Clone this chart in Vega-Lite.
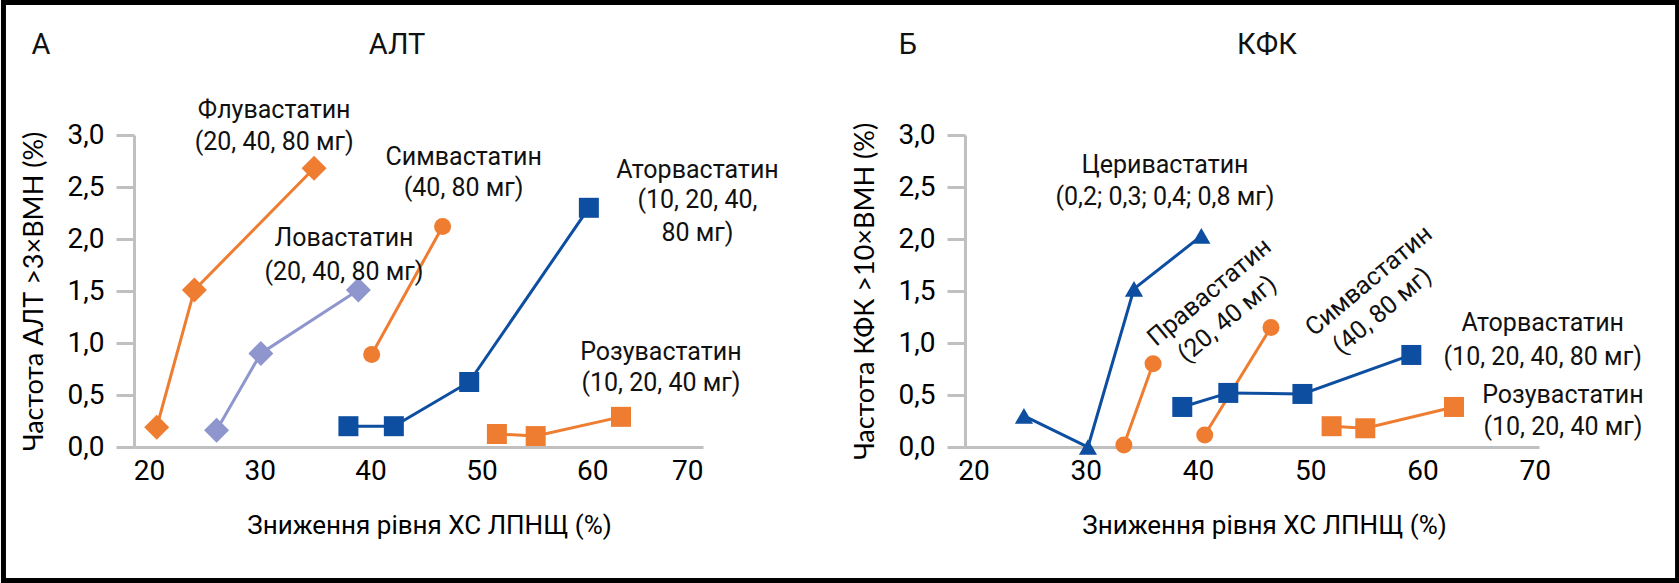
{
  "$schema": "https://vega.github.io/schema/vega-lite/v6.json",
  "background": "white",
  "padding": 0,
  "bounds": "flush",
  "spacing": 262,
  "config": {
    "view": {"stroke": null},
    "font": "Roboto",
    "axis": {
      "labelFont": "Roboto",
      "labelFontSize": 28,
      "labelColor": "#000000",
      "domainColor": "#C0C0C0",
      "domainWidth": 3,
      "tickColor": "#C0C0C0",
      "tickWidth": 3,
      "grid": false,
      "titleColor": "#000000",
      "titleFontWeight": "normal"
    },
    "text": {"font": "Roboto", "fontSize": 25, "color": "#111111"}
  },
  "datasets": {
    "pts": [
      {"panel": "A", "series": "Флувастатин", "x": 20.7, "y": 0.19},
      {"panel": "A", "series": "Флувастатин", "x": 24.1, "y": 1.51},
      {"panel": "A", "series": "Флувастатин", "x": 34.9, "y": 2.68},
      {"panel": "A", "series": "Ловастатин", "x": 26.1, "y": 0.16},
      {"panel": "A", "series": "Ловастатин", "x": 30.1, "y": 0.9},
      {"panel": "A", "series": "Ловастатин", "x": 38.9, "y": 1.51},
      {"panel": "A", "series": "Симвастатин", "x": 40.1, "y": 0.89},
      {"panel": "A", "series": "Симвастатин", "x": 46.5, "y": 2.12},
      {"panel": "A", "series": "Аторвастатин", "x": 38.0, "y": 0.2},
      {"panel": "A", "series": "Аторвастатин", "x": 42.1, "y": 0.2},
      {"panel": "A", "series": "Аторвастатин", "x": 48.9, "y": 0.625},
      {"panel": "A", "series": "Аторвастатин", "x": 59.7, "y": 2.3},
      {"panel": "A", "series": "Розувастатин", "x": 51.4, "y": 0.125},
      {"panel": "A", "series": "Розувастатин", "x": 54.9, "y": 0.105},
      {"panel": "A", "series": "Розувастатин", "x": 62.6, "y": 0.29},
      {"panel": "B", "series": "Церивастатин", "x": 24.5, "y": 0.3},
      {"panel": "B", "series": "Церивастатин", "x": 30.2, "y": 0.0},
      {"panel": "B", "series": "Церивастатин", "x": 34.3, "y": 1.52},
      {"panel": "B", "series": "Церивастатин", "x": 40.3, "y": 2.03},
      {"panel": "B", "series": "Правастатин", "x": 33.4, "y": 0.02},
      {"panel": "B", "series": "Правастатин", "x": 36.0, "y": 0.8},
      {"panel": "B", "series": "Симвастатин", "x": 40.6, "y": 0.115},
      {"panel": "B", "series": "Симвастатин", "x": 46.5, "y": 1.15},
      {"panel": "B", "series": "Аторвастатин", "x": 38.6, "y": 0.385},
      {"panel": "B", "series": "Аторвастатин", "x": 42.7, "y": 0.52},
      {"panel": "B", "series": "Аторвастатин", "x": 49.3, "y": 0.51},
      {"panel": "B", "series": "Аторвастатин", "x": 59.0, "y": 0.885},
      {"panel": "B", "series": "Розувастатин", "x": 51.9, "y": 0.2},
      {"panel": "B", "series": "Розувастатин", "x": 54.9, "y": 0.18},
      {"panel": "B", "series": "Розувастатин", "x": 62.8, "y": 0.385}
    ],
    "titlesA": [
      {"text": "А", "x": 10.26, "y": 3.865},
      {"text": "АЛТ", "x": 42.39, "y": 3.865}
    ],
    "titlesB": [
      {"text": "Б", "x": 14.17, "y": 3.865},
      {"text": "КФК", "x": 46.14, "y": 3.865}
    ],
    "notesA": [
      {"text": "Флувастатин", "x": 31.3, "y": 3.24},
      {"text": "(20, 40, 80 мг)", "x": 31.3, "y": 2.93},
      {"text": "Симвастатин", "x": 48.4, "y": 2.79},
      {"text": "(40, 80 мг)", "x": 48.4, "y": 2.49},
      {"text": "Ловастатин", "x": 37.6, "y": 2.01},
      {"text": "(20, 40, 80 мг)", "x": 37.6, "y": 1.68},
      {"text": "Аторвастатин", "x": 69.5, "y": 2.66},
      {"text": "(10, 20, 40,", "x": 69.5, "y": 2.375},
      {"text": "80 мг)", "x": 69.5, "y": 2.06},
      {"text": "Розувастатин", "x": 66.2, "y": 0.91},
      {"text": "(10, 20, 40 мг)", "x": 66.2, "y": 0.615}
    ],
    "notesB": [
      {"text": "Церивастатин", "x": 37.06, "y": 2.71},
      {"text": "(0,2; 0,3; 0,4; 0,8 мг)", "x": 37.06, "y": 2.4},
      {"text": "Аторвастатин", "x": 70.7, "y": 1.19},
      {"text": "(10, 20, 40, 80 мг)", "x": 70.7, "y": 0.865},
      {"text": "Розувастатин", "x": 72.5, "y": 0.5},
      {"text": "(10, 20, 40 мг)", "x": 72.5, "y": 0.19}
    ],
    "rotB": [
      {"text": "Правастатин", "x": 41.0, "y": 1.49},
      {"text": "(20, 40 мг)", "x": 42.6, "y": 1.23},
      {"text": "Симвастатин", "x": 55.2, "y": 1.6},
      {"text": "(40, 80 мг)", "x": 56.4, "y": 1.31}
    ],
    "frame": [
      {"x": 6.87, "x2": 157.95, "y": 4.274, "y2": -1.284}
    ]
  },
  "hconcat": [
    {
      "width": 569,
      "height": 312,
      "encoding": {
        "x": {"field": "x", "type": "quantitative", "scale": {"domain": [18.65, 70], "nice": false, "zero": false},
          "axis": {"values": [20, 30, 40, 50, 60, 70], "format": "d", "ticks": false, "labelPadding": 10,
            "title": "Зниження рівня ХС ЛПНЩ (%)", "titleFont": "Roboto", "titleFontSize": 26, "titlePadding": 27, "titleX": 295}},
        "y": {"field": "y", "type": "quantitative", "scale": {"domain": [0, 3], "nice": false},
          "axis": {"values": [0, 0.5, 1, 1.5, 2, 2.5, 3], "labelExpr": "replace(format(datum.value, '.1f'), '.', ',')",
            "tickSize": 18, "labelPadding": 12,
            "title": "Частота АЛТ >3×ВМН (%)", "titleFont": "Lato", "titleFontSize": 27, "titlePadding": 19}}
      },
      "layer": [
        {
          "data": {"name": "frame"},
          "mark": {"type": "rect", "fill": null, "stroke": "#000000", "strokeWidth": 5},
          "encoding": {
            "x": {"field": "x", "type": "quantitative"},
            "x2": {"field": "x2"},
            "y": {"field": "y", "type": "quantitative"},
            "y2": {"field": "y2"}
          }
        },
        {
          "data": {"name": "pts"},
          "transform": [{"filter": "datum.panel === 'A'"}],
          "mark": {"type": "line", "strokeWidth": 3},
          "encoding": {
            "color": {"field": "series", "type": "nominal", "legend": null,
              "scale": {"domain": ["Флувастатин", "Ловастатин", "Симвастатин", "Аторвастатин", "Розувастатин", "Церивастатин", "Правастатин"],
                "range": ["#EE7D31", "#8F96CE", "#EE7D31", "#0D4EA0", "#EE7D31", "#0D4EA0", "#EE7D31"]}}
          }
        },
        {
          "data": {"name": "pts"},
          "transform": [{"filter": "datum.panel === 'A'"}],
          "mark": {"type": "point", "filled": true, "opacity": 1},
          "encoding": {
            "color": {"field": "series", "type": "nominal", "legend": null,
              "scale": {"domain": ["Флувастатин", "Ловастатин", "Симвастатин", "Аторвастатин", "Розувастатин", "Церивастатин", "Правастатин"],
                "range": ["#EE7D31", "#8F96CE", "#EE7D31", "#0D4EA0", "#EE7D31", "#0D4EA0", "#EE7D31"]}},
            "shape": {"field": "series", "type": "nominal", "legend": null,
              "scale": {"domain": ["Флувастатин", "Ловастатин", "Симвастатин", "Аторвастатин", "Розувастатин", "Церивастатин", "Правастатин"],
                "range": ["diamond", "diamond", "circle", "square", "square", "triangle-up", "circle"]}},
            "size": {"field": "series", "type": "nominal", "legend": null,
              "scale": {"type": "ordinal", "domain": ["Флувастатин", "Ловастатин", "Симвастатин", "Аторвастатин", "Розувастатин", "Церивастатин", "Правастатин"],
                "range": [625, 625, 290, 400, 400, 330, 290]}}
          }
        },
        {
          "data": {"name": "notesA"},
          "mark": {"type": "text", "align": "center", "baseline": "middle"},
          "encoding": {"text": {"field": "text"}}
        },
        {
          "data": {"name": "titlesA"},
          "mark": {"type": "text", "align": "center", "baseline": "middle", "fontSize": 29},
          "encoding": {"text": {"field": "text"}}
        }
      ]
    },
    {
      "width": 574,
      "height": 312,
      "encoding": {
        "x": {"field": "x", "type": "quantitative", "scale": {"domain": [19.25, 70.37], "nice": false, "zero": false},
          "axis": {"values": [20, 30, 40, 50, 60, 70], "format": "d", "ticks": false, "labelPadding": 10,
            "title": "Зниження рівня ХС ЛПНЩ (%)", "titleFont": "Roboto", "titleFontSize": 26, "titlePadding": 27, "titleX": 299}},
        "y": {"field": "y", "type": "quantitative", "scale": {"domain": [0, 3], "nice": false},
          "axis": {"values": [0, 0.5, 1, 1.5, 2, 2.5, 3], "labelExpr": "replace(format(datum.value, '.1f'), '.', ',')",
            "tickSize": 18, "labelPadding": 12,
            "title": "Частота КФК >10×ВМН (%)", "titleFont": "Lato", "titleFontSize": 27, "titlePadding": 19}}
      },
      "layer": [
        {
          "data": {"name": "pts"},
          "transform": [{"filter": "datum.panel === 'B'"}],
          "mark": {"type": "line", "strokeWidth": 3},
          "encoding": {
            "color": {"field": "series", "type": "nominal", "legend": null,
              "scale": {"domain": ["Флувастатин", "Ловастатин", "Симвастатин", "Аторвастатин", "Розувастатин", "Церивастатин", "Правастатин"],
                "range": ["#EE7D31", "#8F96CE", "#EE7D31", "#0D4EA0", "#EE7D31", "#0D4EA0", "#EE7D31"]}}
          }
        },
        {
          "data": {"name": "pts"},
          "transform": [{"filter": "datum.panel === 'B'"}],
          "mark": {"type": "point", "filled": true, "opacity": 1},
          "encoding": {
            "color": {"field": "series", "type": "nominal", "legend": null,
              "scale": {"domain": ["Флувастатин", "Ловастатин", "Симвастатин", "Аторвастатин", "Розувастатин", "Церивастатин", "Правастатин"],
                "range": ["#EE7D31", "#8F96CE", "#EE7D31", "#0D4EA0", "#EE7D31", "#0D4EA0", "#EE7D31"]}},
            "shape": {"field": "series", "type": "nominal", "legend": null,
              "scale": {"domain": ["Флувастатин", "Ловастатин", "Симвастатин", "Аторвастатин", "Розувастатин", "Церивастатин", "Правастатин"],
                "range": ["diamond", "diamond", "circle", "square", "square", "triangle-up", "circle"]}},
            "size": {"field": "series", "type": "nominal", "legend": null,
              "scale": {"type": "ordinal", "domain": ["Флувастатин", "Ловастатин", "Симвастатин", "Аторвастатин", "Розувастатин", "Церивастатин", "Правастатин"],
                "range": [625, 625, 290, 400, 400, 330, 290]}}
          }
        },
        {
          "data": {"name": "notesB"},
          "mark": {"type": "text", "align": "center", "baseline": "middle"},
          "encoding": {"text": {"field": "text"}}
        },
        {
          "data": {"name": "titlesB"},
          "mark": {"type": "text", "align": "center", "baseline": "middle", "fontSize": 29},
          "encoding": {"text": {"field": "text"}}
        },
        {
          "data": {"name": "rotB"},
          "mark": {"type": "text", "align": "center", "baseline": "middle", "angle": 320},
          "encoding": {"text": {"field": "text"}}
        }
      ]
    }
  ]
}
